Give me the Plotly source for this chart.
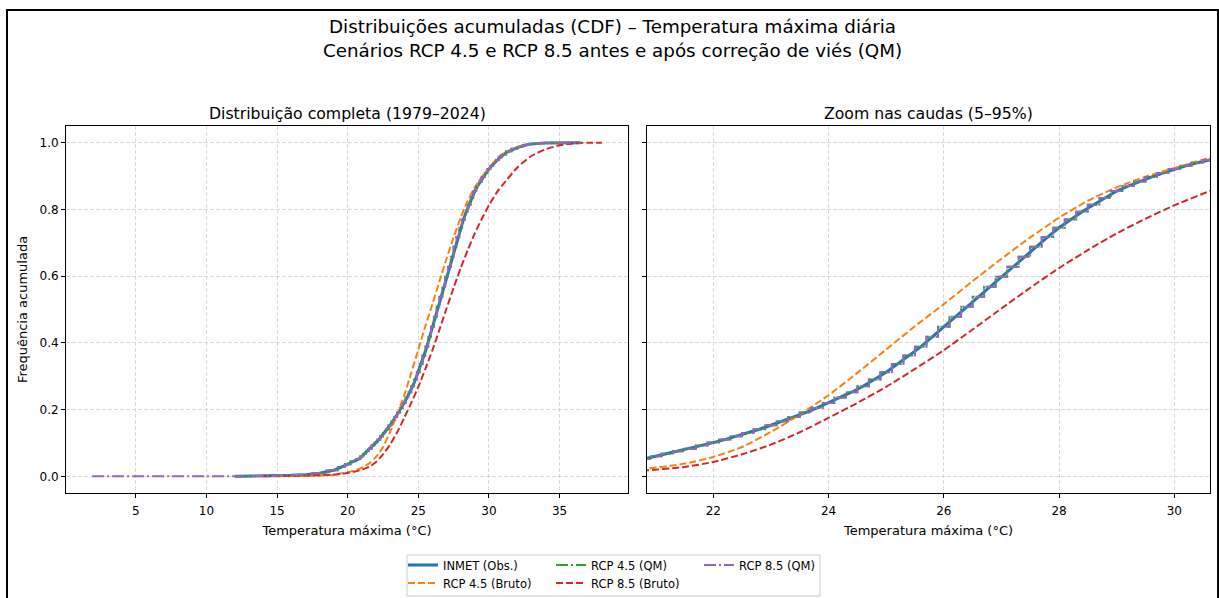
import plotly.graph_objects as go

# ---------------- data ----------------
# Observed (INMET) empirical CDF: temperatures (°C) and cumulative frequency
obs_t = [12.0, 14.0, 16.0, 17.0, 18.0, 19.0, 19.6, 20.0, 20.4,
         20.8, 21.0, 21.2, 21.4, 21.6, 21.8, 22.0, 22.2, 22.4, 22.6, 22.8,
         23.0, 23.2, 23.4, 23.6, 23.8, 24.0, 24.2, 24.4, 24.6, 24.8,
         25.0, 25.2, 25.4, 25.6, 25.8, 26.0, 26.2, 26.4, 26.6, 26.8,
         27.0, 27.2, 27.4, 27.6, 27.8, 28.0, 28.2, 28.4, 28.6, 28.8,
         29.0, 29.2, 29.4, 29.6, 29.8, 30.0, 30.2, 30.4, 30.6, 30.8,
         31.0, 31.4, 31.8, 32.2, 32.6, 33.0, 34.0, 35.0, 36.5]
obs_cdf = [0.000, 0.001, 0.003, 0.005, 0.009, 0.018, 0.028, 0.036, 0.045,
           0.052, 0.060, 0.068, 0.075, 0.083, 0.092, 0.101, 0.110, 0.120, 0.130, 0.141,
           0.153, 0.165, 0.178, 0.191, 0.205, 0.220, 0.236, 0.252, 0.270, 0.290,
           0.312, 0.337, 0.362, 0.388, 0.418, 0.448, 0.478, 0.508, 0.538, 0.568,
           0.598, 0.628, 0.658, 0.688, 0.717, 0.745, 0.770, 0.793, 0.814, 0.834,
           0.855, 0.870, 0.884, 0.897, 0.909, 0.921, 0.931, 0.940, 0.948, 0.956,
           0.963, 0.974, 0.982, 0.988, 0.993, 0.996, 0.999, 1.000, 1.000]

# RCP 4.5 corrected (QM) – coincides with the observed curve
qm45_t = list(obs_t)
qm45_cdf = list(obs_cdf)

# RCP 8.5 corrected (QM) – same curve, extended down to ~2 °C
qm85_t = [1.9, 5.0, 8.0, 10.0] + list(obs_t)
qm85_cdf = [0.000, 0.000, 0.000, 0.000] + list(obs_cdf)

# RCP 4.5 raw model output
raw45_t = [15.0, 18.0, 19.0, 20.0, 20.85, 21.5, 22.0, 22.5, 23.0, 23.5,
           24.0, 24.5, 25.0, 25.5, 26.0, 26.5, 27.0, 27.5, 28.0, 28.5,
           29.0, 29.5, 30.0, 30.62, 31.0, 32.0, 33.0, 34.0, 35.5]
raw45_cdf = [0.000, 0.002, 0.005, 0.012, 0.023, 0.038, 0.058, 0.088, 0.133, 0.185,
             0.243, 0.310, 0.380, 0.450, 0.516, 0.585, 0.652, 0.716, 0.775, 0.826,
             0.866, 0.898, 0.924, 0.955, 0.967, 0.987, 0.996, 0.999, 1.000]

# RCP 8.5 raw model output
raw85_t = [14.0, 17.0, 19.0, 20.0, 20.85, 21.5, 22.0, 22.5, 23.0, 23.5,
           24.0, 24.5, 25.0, 25.5, 26.0, 26.5, 27.0, 27.5, 28.0, 28.5,
           29.0, 29.5, 30.0, 30.62, 31.0, 32.0, 33.0, 34.0, 35.0, 36.0, 37.0, 38.0]
raw85_cdf = [0.000, 0.002, 0.005, 0.010, 0.018, 0.028, 0.043, 0.066, 0.095, 0.132,
             0.175, 0.220, 0.268, 0.322, 0.378, 0.440, 0.503, 0.565, 0.624, 0.678,
             0.728, 0.772, 0.812, 0.855, 0.875, 0.925, 0.960, 0.980, 0.992, 0.998, 1.000, 1.000]

x_full_ticks = [5, 10, 15, 20, 25, 30, 35]
x_zoom_ticks = [22, 24, 26, 28, 30]
y_ticks = [0.0, 0.2, 0.4, 0.6, 0.8, 1.0]

# ---------------- figure ----------------
W, H = 1219, 598
ML, MR, MT, MB = 66, 9, 126, 105
PW = W - ML - MR
PH = H - MT - MB


def px(xr):
    """screen x pixel -> paper coordinate"""
    return (xr - ML) / PW


def py(yr):
    """screen y pixel -> paper coordinate"""
    return (H - MB - yr) / PH


def cx(xr):
    """screen x pixel -> container coordinate"""
    return xr / W


def cy(yr):
    """screen y pixel -> container coordinate"""
    return (H - yr) / H


FONT = "DejaVu Sans, Verdana, sans-serif"
BLUE, ORANGE, GREEN, RED, PURPLE = "#1f77b4", "#ff7f0e", "#2ca02c", "#d62728", "#9467bd"
DASH = "7px,3px"
DASHDOT = "12px,3px,2px,3px"

series = [
    dict(name="INMET (Obs.)", x=obs_t, y=obs_cdf, color=BLUE, width=3, dash="solid",
         shape="linear", legend="legend"),
    dict(name="RCP 4.5 (Bruto)", x=raw45_t, y=raw45_cdf, color=ORANGE, width=2, dash=DASH,
         shape="spline", legend="legend2"),
    dict(name="RCP 4.5 (QM)", x=qm45_t, y=qm45_cdf, color=GREEN, width=2, dash=DASHDOT,
         shape="hvh", legend="legend"),
    dict(name="RCP 8.5 (Bruto)", x=raw85_t, y=raw85_cdf, color=RED, width=2, dash=DASH,
         shape="spline", legend="legend2"),
    dict(name="RCP 8.5 (QM)", x=qm85_t, y=qm85_cdf, color=PURPLE, width=2, dash=DASHDOT,
         shape="hvh", legend="legend"),
]

fig = go.Figure()
for s in series:
    for ax, show in (("x", True), ("x2", False)):
        fig.add_trace(go.Scatter(
            x=s["x"], y=s["y"], mode="lines", name=s["name"],
            line=dict(color=s["color"], width=s["width"], dash=s["dash"], shape=s["shape"],
                      smoothing=0.6 if s["shape"] == "spline" else None),
            xaxis=ax, yaxis="y" if ax == "x" else "y2",
            showlegend=show, legend=s["legend"], hoverinfo="skip",
        ))

axis_common = dict(
    showline=True, linecolor="black", linewidth=1, mirror=True,
    ticks="outside", ticklen=4, tickcolor="black", tickwidth=1,
    showgrid=True, gridcolor="rgba(190,190,190,0.55)", griddash="4px,2px", gridwidth=1,
    zeroline=False, tickfont=dict(size=12, color="black", family=FONT),
)

legend_common = dict(
    orientation="h", xref="container", yref="container", xanchor="left", yanchor="middle",
    entrywidth=103, entrywidthmode="pixels", bgcolor="rgba(0,0,0,0)",
    font=dict(size=11.5, family=FONT), itemwidth=30, tracegroupgap=0,
)

fig.update_layout(
    width=W, height=H,
    margin=dict(l=ML, r=MR, t=MT, b=MB, autoexpand=False),
    paper_bgcolor="white", plot_bgcolor="white",
    font=dict(family=FONT, color="black"),
    xaxis=dict(domain=[0, px(628)], range=[0.05, 39.85], tickvals=x_full_ticks,
               ticklabelstandoff=3,
               title=dict(text="Temperatura máxima (°C)", font=dict(size=13), standoff=8),
               **axis_common),
    yaxis=dict(domain=[0, 1], range=[-0.05, 1.05], tickvals=y_ticks, tickformat=".1f",
               title=dict(text="Frequência acumulada", font=dict(size=13), standoff=8),
               **axis_common),
    xaxis2=dict(domain=[px(647), 1], range=[20.85, 30.62], tickvals=x_zoom_ticks,
                anchor="y2", ticklabelstandoff=3,
                title=dict(text="Temperatura máxima (°C)", font=dict(size=13), standoff=8),
                **axis_common),
    yaxis2=dict(domain=[0, 1], range=[-0.05, 1.05], tickvals=y_ticks, anchor="x2",
                showticklabels=False, **axis_common),
    legend=dict(x=cx(403), y=cy(565), **legend_common),
    legend2=dict(x=cx(403), y=cy(583), **legend_common),
    showlegend=True,
)

fig.add_annotation(
    text="Distribuições acumuladas (CDF) – Temperatura máxima diária<br>"
         "Cenários RCP 4.5 e RCP 8.5 antes e após correção de viés (QM)",
    x=px(612), y=py(39), xref="paper", yref="paper", showarrow=False,
    xanchor="center", yanchor="middle", font=dict(size=18.3, family=FONT, color="black"),
)
fig.add_annotation(text="Distribuição completa (1979–2024)", x=px((66 + 628) / 2), y=py(113),
                   xref="paper", yref="paper", showarrow=False, xanchor="center",
                   yanchor="middle", font=dict(size=15.7, family=FONT, color="black"))
fig.add_annotation(text="Zoom nas caudas (5–95%)", x=px((647 + 1210) / 2), y=py(113),
                   xref="paper", yref="paper", showarrow=False, xanchor="center",
                   yanchor="middle", font=dict(size=15.7, family=FONT, color="black"))

# legend frame
fig.add_shape(type="rect", xref="paper", yref="paper",
              x0=px(407), x1=px(820), y0=py(596), y1=py(555),
              line=dict(color="#cccccc", width=1), fillcolor="rgba(255,255,255,0.8)",
              layer="below")
# outer figure frame
fig.add_shape(type="rect", xref="paper", yref="paper",
              x0=px(7), x1=px(1218), y0=py(610), y1=py(10),
              line=dict(color="black", width=2), fillcolor="rgba(0,0,0,0)")

# drop the default 8 px page margin so the figure fills the window exactly
fig.write_html(
    "out.html",
    config={"displayModeBar": False},
    post_script="document.body.style.margin='0px';document.body.style.overflow='hidden';",
)
